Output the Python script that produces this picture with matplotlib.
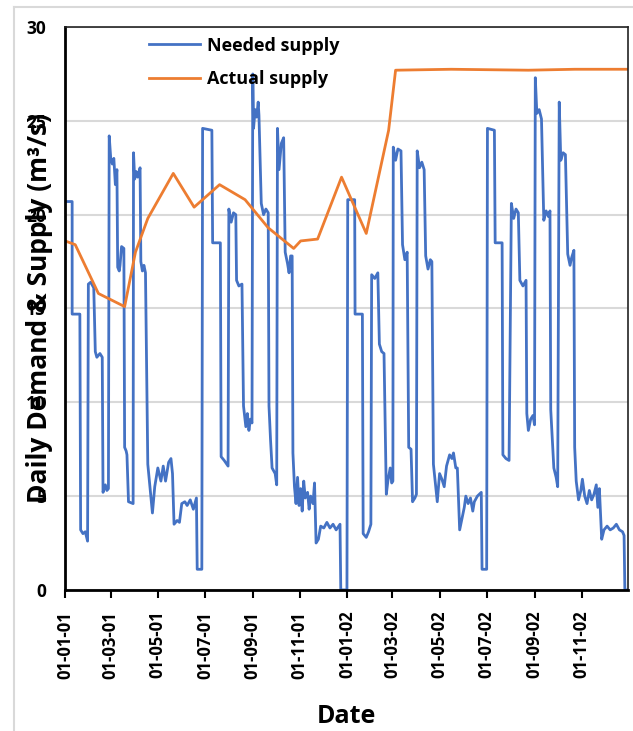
#!/usr/bin/env python3

import numpy as np
import pandas as pd
import matplotlib
matplotlib.use("Agg")
import matplotlib.pyplot as plt
import matplotlib.dates as mdates
from matplotlib.lines import Line2D

plt.rcParams['font.family'] = ['Open Sans', 'DejaVu Sans']
plt.rcParams['font.weight'] = 'bold'

start = pd.Timestamp('2001-01-01')

# needed supply, (day offset from 01-01-01, m3/s)
need_days = [0, 9, 9, 19, 20, 23, 26, 29, 30, 33, 37, 39, 41, 45, 48, 49, 52, 54, 56,
             57, 59, 61, 63, 65, 67, 68, 70, 71, 73, 76, 77, 79, 80, 82, 88,
             88.5, 90, 92, 94, 97, 98, 100, 102, 104, 107, 110, 113, 116, 120, 124,
             127, 130, 134, 137, 139, 141, 145, 148, 151, 155, 158, 162, 166, 170, 171, 177,
             178, 190, 191, 201, 202, 206, 211, 212, 215, 218, 221, 222, 225, 229,
             231, 234, 236, 238, 240, 242, 243, 244, 246, 248, 250, 251, 254, 257, 260, 263,
             264, 266, 268, 272, 274, 275, 277, 280, 283, 285, 288, 290, 292, 294,
             295, 297, 299, 301, 303, 305, 307, 309, 311, 314, 316, 318, 321, 323,
             325, 328, 331, 335, 339, 343, 347, 351, 356, 357, 365,
             366, 375, 375.5, 385, 386, 390, 393, 396, 397, 401, 405, 407, 410, 413,
             416, 418, 421, 423, 424.5, 425, 428, 431, 435, 437, 440, 443, 445, 448, 450,
             453, 455, 456, 459, 462, 465, 467, 470, 473, 475, 477, 480, 482, 485, 488,
             491, 494, 498, 501, 503, 506, 508, 511, 514, 517, 519, 522, 525, 528, 530,
             534, 539, 540, 546, 547, 556, 557, 566, 567, 571, 575, 578, 581, 584, 587,
             589, 593, 597, 598, 600, 603, 606, 608, 609, 611, 614, 617, 620, 623, 626,
             628, 629, 631, 633, 636, 638, 640, 642, 645, 648, 651, 654, 656, 659, 660,
             662, 665, 668, 670, 673, 676, 679, 682, 685, 688, 690, 692, 695, 698, 702,
             706, 710, 714, 718, 722, 724, 725, 730]
need_vals = [20.7, 20.7, 14.7, 14.7, 3.2, 3.0, 3.1, 2.6, 16.3, 16.4, 16.1, 12.7, 12.4, 12.6, 12.4, 5.2, 5.6, 5.3, 5.4,
             24.2, 23.0, 22.7, 23.0, 21.6, 22.4, 17.2, 17.0, 17.3, 18.3, 18.2, 7.6, 7.4, 7.2, 4.7, 4.6,
             23.3, 21.9, 22.3, 22.0, 22.5, 17.5, 17.0, 17.3, 16.9, 6.7, 5.4, 4.1, 5.5, 6.5, 5.8,
             6.6, 5.8, 6.8, 7.0, 6.2, 3.5, 3.7, 3.6, 4.6, 4.7, 4.5, 4.8, 4.3, 4.9, 1.1, 1.1,
             24.6, 24.5, 18.5, 18.5, 7.1, 6.9, 6.6, 20.3, 19.6, 20.1, 20.0, 16.5, 16.2, 16.3,
             9.8, 8.7, 9.4, 8.5, 9.1, 8.9, 27.5, 24.6, 25.6, 25.2, 26.0, 25.3, 20.6, 20.0, 20.3, 20.1,
             9.8, 8.0, 6.5, 6.2, 5.6, 24.6, 22.4, 23.8, 24.1, 18.0, 17.4, 16.9, 17.8, 17.8,
             7.3, 5.5, 4.6, 6.0, 4.5, 5.4, 4.2, 5.8, 4.9, 5.2, 4.3, 5.0, 4.6, 5.7,
             2.5, 2.7, 3.4, 3.3, 3.6, 3.3, 3.5, 3.2, 3.5, 0.0, 0.0,
             20.8, 20.8, 14.7, 14.7, 3.0, 2.8, 3.1, 3.5, 16.8, 16.6, 16.9, 13.1, 12.7, 12.6,
             5.1, 5.8, 6.5, 5.7, 5.8, 23.6, 22.9, 23.5, 23.4, 18.4, 17.6, 18.0, 7.6, 7.5, 4.7,
             4.9, 5.1, 23.4, 22.5, 22.8, 22.4, 17.8, 17.1, 17.6, 17.5, 6.7, 5.5, 4.7, 6.2, 5.9,
             5.5, 6.6, 7.2, 7.0, 7.3, 6.5, 6.5, 3.2, 3.8, 4.4, 5.0, 4.6, 4.9, 4.2, 4.7,
             5.0, 5.2, 1.1, 1.1, 24.6, 24.5, 18.5, 18.5, 7.2, 7.0, 6.9, 20.6, 19.8, 20.3, 20.1,
             16.5, 16.2, 16.5, 9.4, 8.5, 9.1, 9.3, 8.8, 27.3, 25.4, 25.6, 25.1, 19.7, 20.2, 19.9,
             20.2, 9.6, 8.0, 6.5, 6.0, 5.5, 26.0, 22.9, 23.3, 23.2, 17.9, 17.3, 17.7, 18.1, 7.6,
             5.8, 4.8, 5.3, 5.9, 5.0, 4.6, 5.3, 4.8, 5.1, 5.6, 4.4, 5.4, 2.7, 3.2, 3.4,
             3.2, 3.3, 3.5, 3.2, 3.1, 2.9, 0.0, 0.0]

# actual supply
act_days = [0, 13, 43, 77, 91, 107, 140, 167, 200, 233, 263, 296, 305, 327,
            358, 390, 419, 428, 500, 600, 660, 730]
act_vals = [18.6, 18.4, 15.8, 15.1, 18.0, 19.8, 22.2, 20.4, 21.6, 20.8, 19.3, 18.2, 18.6, 18.7,
            22.0, 19.0, 24.5, 27.7, 27.75, 27.7, 27.75, 27.75]

need_dates = start + pd.to_timedelta(need_days, unit='D')
act_dates = start + pd.to_timedelta(act_days, unit='D')

fig = plt.figure(figsize=(6.33, 7.31), dpi=100)
ax = fig.add_axes([0.103, 0.193, 0.889, 0.770])

ax.plot(need_dates, need_vals, color='#4472C4', lw=2, label='Needed supply')
ax.plot(act_dates, act_vals, color='#ED7D31', lw=2, label='Actual supply')

ax.set_ylim(0, 30)
ax.set_yticks([0, 5, 10, 15, 20, 25, 30])
ax.set_xlim(pd.Timestamp('2001-01-01'), pd.Timestamp('2002-12-31'))
ax.xaxis.set_major_locator(mdates.MonthLocator(bymonth=[1, 3, 5, 7, 9, 11]))
ax.xaxis.set_major_formatter(mdates.DateFormatter('%d-%m-%y'))
plt.setp(ax.get_xticklabels(), rotation=90, fontsize=12, fontweight='bold')
plt.setp(ax.get_yticklabels(), fontsize=12.5, fontweight='bold')
ax.tick_params(axis='y', length=0, pad=14)
ax.tick_params(axis='x', length=6, width=1.5, direction='out', pad=9)

ax.grid(axis='y', color='#d9d9d9', lw=1.5)
ax.set_axisbelow(True)
for side in ['left', 'bottom']:
    ax.spines[side].set_linewidth(2)
for side in ['top', 'right']:
    ax.spines[side].set_linewidth(1.2)
    ax.spines[side].set_color('#222222')

ax.set_ylabel('Daily Demand & Supply (m³/s)', fontsize=19, fontweight='bold')
ax.yaxis.set_label_coords(-0.022, 0.5)
ax.set_xlabel('Date', fontsize=18, fontweight='bold', labelpad=18)

ax.legend(loc='upper left', bbox_to_anchor=(0.12, 1.012), frameon=False,
          prop={'size': 13, 'weight': 'bold'}, handlelength=2.8, handletextpad=0.4,
          labelspacing=0.85)

# light frame around the picture
fig.add_artist(Line2D([0.022, 0.022], [0.0, 0.99], color='#d9d9d9', lw=1.5))
fig.add_artist(Line2D([0.022, 1.0], [0.99, 0.99], color='#d9d9d9', lw=1.5))

fig.savefig('out.png', dpi=100)
